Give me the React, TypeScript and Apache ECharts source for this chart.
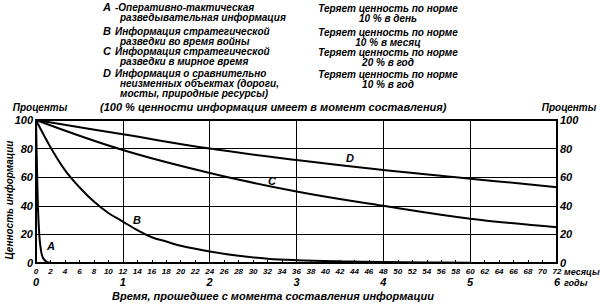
import React, { useEffect, useRef } from 'react';
import * as echarts from 'echarts';

// Curve A: loses 10% per day (months)
const monthsA = [0, 0.1, 0.2, 0.3, 0.45, 0.6, 0.8, 1.1, 1.5, 2];
const valuesA = [100, 75, 52, 35, 20, 12, 6, 2.5, 0.8, 0];
// Curve B: loses 10% per month
const monthsB = [0, 2, 4, 6, 8, 10, 12, 14, 16, 18, 20, 24, 28, 32, 36, 42, 48, 54, 60];
const valuesB = [100, 81, 65, 53, 43, 35, 29, 23, 18, 15, 12, 8, 5, 3, 2, 1.2, 0.7, 0.4, 0.2];
// Curves C and D (yearly points)
const monthsCD = [0, 12, 24, 36, 48, 60, 72];
const valuesC = [100, 79, 63, 50, 40, 31, 25];
const valuesD = [100, 90, 80, 72, 65, 59, 53];

const curveNames = ['A', 'B', 'C', 'D'];
const legendDesc = [
  ['-Оперативно-тактическая', 'разведывательная информация'],
  ['Информация стратегической', 'разведки во время войны'],
  ['Информация стратегической', 'разведки в мирное время'],
  ['Информация о сравнительно', 'неизменных объектах (дороги,', 'мосты, природные ресурсы)'],
];
const legendRate = [
  ['Теряет ценность по норме', '10 % в день'],
  ['Теряет ценность по норме', '10 % в месяц'],
  ['Теряет ценность по норме', '20 % в год'],
  ['Теряет ценность по норме', '10 % в год'],
];
const yTitleLeft = 'Проценты';
const yTitleRight = 'Проценты';
const topNote = '(100 % ценности информация имеет в момент составления)';
const xTitle = 'Время, прошедшее с момента составления информации';
const sideTitle = 'Ценность информации';
const monthsUnit = 'месяцы';
const yearsUnit = 'годы';

const FONT = '"Liberation Sans", Arial, sans-serif';
const f = (size: number) => `italic bold ${size}px ${FONT}`;

export default function App() {
  const ref = useRef<HTMLDivElement>(null);
  useEffect(() => {
    const chart = echarts.init(ref.current!, null, { renderer: 'svg' });

    const graphics: any[] = [];
    const txt = (text: string, x: number, y: number, size: number, align = 'left', rotation = 0) => {
      graphics.push({
        type: 'text',
        x,
        y,
        rotation,
        style: { text, fill: '#000', font: f(size), textAlign: align, textVerticalAlign: 'middle' },
      });
    };
    const rowY = [7, 31, 51, 73];
    rowY.forEach((y0, i) => {
      txt(curveNames[i], 103, y0, 11);
      legendDesc[i].forEach((line, j) => txt(line, j === 0 ? 115 : 120, y0 + j * 10, 10));
      legendRate[i].forEach((line, j) => txt(line, 388, y0 + 1 + j * 10, 10, 'center'));
    });
    txt(yTitleLeft, 40, 107, 10, 'center');
    txt(yTitleRight, 569, 107, 10, 'center');
    txt(topNote, 100, 107, 11);
    txt(xTitle, 273, 296, 11, 'center');
    txt(sideTitle, 9, 200, 10, 'center', Math.PI / 2);
    txt(monthsUnit, 564, 272, 9);
    txt(yearsUnit, 564, 283, 9);
    // curve letters
    txt('A', 47, 246, 11);
    txt('B', 133, 220, 11);
    txt('C', 268, 181, 11);
    txt('D', 346, 158, 11);

    const line = (name: string, xs: number[], ys: number[]) => ({
      name,
      type: 'line',
      xAxisIndex: 0,
      yAxisIndex: 0,
      smooth: 0.4,
      showSymbol: false,
      symbol: 'none',
      lineStyle: { color: '#000', width: 2 },
      data: xs.map((x, i) => [x, ys[i]]),
      z: 5,
    });

    const axisText = (size: number) => ({
      color: '#000',
      fontFamily: FONT,
      fontStyle: 'italic',
      fontWeight: 'bold',
      fontSize: size,
    });

    chart.setOption({
      animation: false,
      backgroundColor: '#fff',
      grid: {
        left: 36,
        right: 43,
        top: 120,
        bottom: 41,
        show: true,
        borderColor: '#000',
        borderWidth: 2,
        backgroundColor: 'transparent',
      },
      xAxis: [
        {
          type: 'value',
          min: 0,
          max: 72,
          interval: 2,
          position: 'bottom',
          axisLine: { show: true, lineStyle: { color: '#000', width: 2 } },
          axisTick: { show: true, inside: true, length: 3, lineStyle: { color: '#000' } },
          axisLabel: { ...axisText(8), margin: 4, showMinLabel: true, showMaxLabel: true },
          splitLine: { show: false },
        },
        {
          type: 'value',
          min: 0,
          max: 72,
          interval: 12,
          position: 'bottom',
          offset: 10,
          axisLine: { show: false },
          axisTick: { show: false },
          axisLabel: { ...axisText(11), margin: 3, formatter: (v: number) => String(v / 12) },
          splitLine: { show: true, lineStyle: { color: '#000', width: 1 } },
        },
      ],
      yAxis: [
        {
          type: 'value',
          min: 0,
          max: 100,
          interval: 20,
          position: 'left',
          axisLine: { show: true, lineStyle: { color: '#000', width: 2 } },
          axisTick: { show: false },
          axisLabel: { ...axisText(11), margin: 3 },
          splitLine: { show: true, lineStyle: { color: '#000', width: 1 } },
        },
        {
          type: 'value',
          min: 0,
          max: 100,
          interval: 20,
          position: 'right',
          axisLine: { show: true, lineStyle: { color: '#000', width: 2 } },
          axisTick: { show: false },
          axisLabel: { ...axisText(11), margin: 3 },
          splitLine: { show: false },
        },
      ],
      series: [
        line('A', monthsA, valuesA),
        line('B', monthsB, valuesB),
        line('C', monthsCD, valuesC),
        line('D', monthsCD, valuesD),
      ],
      graphic: graphics,
    });
    return () => chart.dispose();
  }, []);
  return (
    <div
      ref={ref}
      style={{ position: 'fixed', left: 0, top: 0, width: 600, height: 304, background: '#fff' }}
    />
  );
}
